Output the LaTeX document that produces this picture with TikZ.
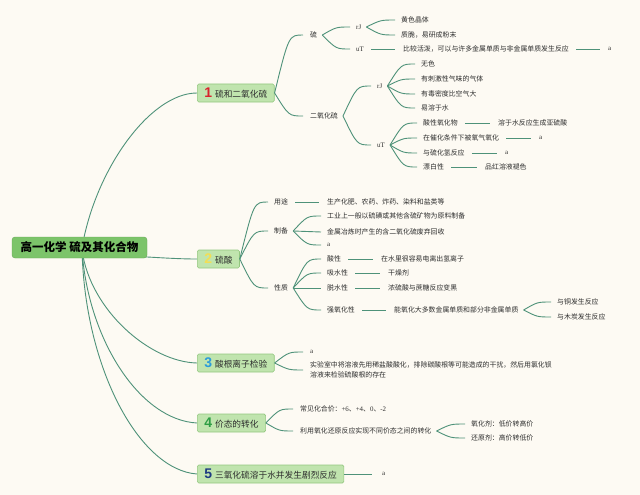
\documentclass[tikz,border=0pt]{standalone}
\usepackage{fontspec}
\setmainfont{Liberation Serif}
\newfontfamily\cjk{Noto Sans CJK SC}
\newfontfamily\numfont{Liberation Sans}
\usetikzlibrary{calc}
\definecolor{paperc}{HTML}{FDFAF3}
\definecolor{linkc}{HTML}{4E9279}
\definecolor{rootfill}{HTML}{7CC46A}
\definecolor{brfill}{HTML}{C0E4AE}
\definecolor{brdraw}{HTML}{93C77F}
\definecolor{txtc}{HTML}{2E2E2E}
\definecolor{numa}{HTML}{D9232D}
\definecolor{numb}{HTML}{F2DE55}
\definecolor{numc}{HTML}{2B9BD9}
\definecolor{numd}{HTML}{2E9E45}
\definecolor{nume}{HTML}{1E3B82}
\pgfdeclarelayer{paper}
\pgfdeclarelayer{links}
\pgfsetlayers{paper,links,main}
\newcommand\fanto[2]{\draw[lnk] let \p1=([xshift=5pt]#1.east), \p2=([xshift=-6pt]#2.west) in (\p1) .. controls ({0.5*\x1+0.5*\x2},\y2) .. (\p2);}
\newcommand\dash[2]{\draw[lnk] ([xshift=7pt]#1.east) -- ([xshift=-8pt]#2.west);}
\newcommand\bnum[2]{\textcolor{#1}{\numfont\bfseries\fontsize{14}{14}\selectfont #2}\hspace{3pt}}
\begin{document}
\begin{tikzpicture}[x=1pt,y=-1pt,
 lnk/.style={draw=linkc,line width=0.9pt},
 tx/.style={font=\cjk\fontsize{6.9}{10}\selectfont,inner sep=0pt,anchor=west,text=txtc},
 lt/.style={font=\fontsize{6.9}{10}\selectfont,inner sep=0pt,anchor=west,text=txtc},
 br/.style={rectangle,rounded corners=1.5pt,fill=brfill,draw=brdraw,line width=0.6pt,font=\cjk\fontsize{8.7}{10}\selectfont,anchor=west,minimum height=18pt,inner xsep=7pt,inner ysep=0pt,text=txtc},
 rootbox/.style={rectangle,rounded corners=3pt,fill=rootfill,draw=rootfill!85!black,line width=0.4pt,font=\cjk\bfseries\fontsize{11.5}{12}\selectfont,minimum width=135pt,minimum height=21pt,inner sep=0pt,text=black}
 ]
\begin{pgfonlayer}{paper}
\fill[paperc] (0,0) rectangle (640,495);
\end{pgfonlayer}
\useasboundingbox (0,0) rectangle (640,495);

% root and branches
\node[rootbox] (root) at (79.5,247.5) {高一化学 硫及其化合物};
\node[br] (b1) at (197,93) {\bnum{numa}{1}硫和二氧化硫};
\node[br] (b2) at (197,259) {\bnum{numb}{2}硫酸};
\node[br] (b3) at (197,363) {\bnum{numc}{3}酸根离子检验};
\node[br] (b4) at (197,423) {\bnum{numd}{4}价态的转化};
\node[br] (b5) at (197,474) {\bnum{nume}{5}三氧化硫溶于水并发生剧烈反应};

% branch 1
\node[tx] (s) at (310,35) {硫};
\node[tx] (so2) at (310,116) {二氧化硫};
\node[lt] (sr) at (356,27) {rJ};
\node[lt] (su) at (356,49) {uT};
\node[tx] (sr1) at (401,20) {黄色晶体};
\node[tx] (sr2) at (401,35) {质脆，易研成粉末};
\node[tx] (su1) at (403,49) {比较活泼，可以与许多金属单质与非金属单质发生反应};
\node[lt] (su2) at (608,49) {a};
\node[lt] (or) at (377,86) {rJ};
\node[lt] (ou) at (377,145) {uT};
\node[tx] (or1) at (421,64) {无色};
\node[tx] (or2) at (421,79) {有刺激性气味的气体};
\node[tx] (or3) at (421,94) {有毒密度比空气大};
\node[tx] (or4) at (421,108) {易溶于水};
\node[tx] (ou1) at (423,123) {酸性氧化物};
\node[tx] (ou1a) at (498,123) {溶于水反应生成亚硫酸};
\node[tx] (ou2) at (423,138) {在催化条件下被氧气氧化};
\node[lt] (ou2a) at (539,138) {a};
\node[tx] (ou3) at (423,153) {与硫化氢反应};
\node[lt] (ou3a) at (505,153) {a};
\node[tx] (ou4) at (423,167) {漂白性};
\node[tx] (ou4a) at (485,167) {品红溶液褪色};

% branch 2
\node[tx] (yt) at (274,202) {用途};
\node[tx] (zb) at (274,231) {制备};
\node[tx] (xz) at (274,288) {性质};
\node[tx] (yt1) at (327,202) {生产化肥、农药、炸药、染料和盐类等};
\node[tx] (zb1) at (327,216) {工业上一般以硫磺或其他含硫矿物为原料制备};
\node[tx] (zb2) at (327,232) {金属冶炼时产生的含二氧化硫废弃回收};
\node[lt] (zb3) at (327,245) {a};
\node[tx] (xz1) at (327,259) {酸性};
\node[tx] (xz1a) at (381,259) {在水里很容易电离出氢离子};
\node[tx] (xz2) at (327,273) {吸水性};
\node[tx] (xz2a) at (388,273) {干燥剂};
\node[tx] (xz3) at (327,288) {脱水性};
\node[tx] (xz3a) at (388,288) {浓硫酸与蔗糖反应变黑};
\node[tx] (xz4) at (327,310) {强氧化性};
\node[tx] (xz4a) at (394,310) {能氧化大多数金属单质和部分非金属单质};
\node[tx] (xz4b) at (557,302) {与铜发生反应};
\node[tx] (xz4c) at (557,317) {与木炭发生反应};

% branch 3
\node[lt] (c1) at (310,352) {a};
\node[tx,align=left] (c2) at (310,370) {实验室中将溶液先用稀盐酸酸化，排除碳酸根等可能造成的干扰，然后用氯化钡\\溶液来检验硫酸根的存在};

% branch 4
\node[lt] (d1) at (300,409) {{\cjk 常见化合价：}+6{\cjk 、}+4{\cjk 、}0{\cjk 、}-2};
\node[tx] (d2) at (300,431) {利用氧化还原反应实现不同价态之间的转化};
\node[tx] (d2a) at (471,424) {氧化剂：低价转高价};
\node[tx] (d2b) at (471,438) {还原剂：高价转低价};

% branch 5
\node[lt] (e1) at (382,474) {a};

\begin{pgfonlayer}{links}
\draw[lnk] (82,248) .. controls (95,170) and (150,93) .. (b1.west);
\draw[lnk] (130,256) .. controls (165,258) and (180,259) .. (b2.west);
\draw[lnk] (82,250) .. controls (90,310) and (150,362) .. (b3.west);
\draw[lnk] (82,250) .. controls (88,340) and (140,420) .. (b4.west);
\draw[lnk] (82,250) .. controls (85,370) and (140,470) .. (b5.west);
\end{pgfonlayer}

% branch 1 links
\draw[lnk] let \p1=(b1.east), \p2=([xshift=-7pt]s.west) in (\p1) .. controls ({0.5*\x1+0.5*\x2},\y2) .. (\p2);
\draw[lnk] let \p1=(b1.east), \p2=([xshift=-7pt]so2.west) in (\p1) .. controls ({0.5*\x1+0.5*\x2},\y2) .. (\p2);
\fanto{s}{sr}
\fanto{s}{su}
\fanto{sr}{sr1}
\fanto{sr}{sr2}
\dash{su}{su1}
\dash{su1}{su2}
\fanto{so2}{or}
\fanto{so2}{ou}
\fanto{or}{or1}
\fanto{or}{or2}
\fanto{or}{or3}
\fanto{or}{or4}
\fanto{ou}{ou1}
\fanto{ou}{ou2}
\fanto{ou}{ou3}
\fanto{ou}{ou4}
\dash{ou1}{ou1a}
\dash{ou2}{ou2a}
\dash{ou3}{ou3a}
\dash{ou4}{ou4a}

% branch 2 links
\draw[lnk] let \p1=(b2.east), \p2=([xshift=-6pt]yt.west) in (\p1) .. controls ({0.5*\x1+0.5*\x2},\y2) .. (\p2);
\draw[lnk] let \p1=(b2.east), \p2=([xshift=-6pt]zb.west) in (\p1) .. controls ({0.5*\x1+0.5*\x2},\y2) .. (\p2);
\draw[lnk] let \p1=(b2.east), \p2=([xshift=-6pt]xz.west) in (\p1) .. controls ({0.5*\x1+0.5*\x2},\y2) .. (\p2);
\dash{yt}{yt1}
\fanto{zb}{zb1}
\fanto{zb}{zb2}
\fanto{zb}{zb3}
\fanto{xz}{xz1}
\fanto{xz}{xz2}
\fanto{xz}{xz3}
\fanto{xz}{xz4}
\dash{xz1}{xz1a}
\dash{xz2}{xz2a}
\dash{xz3}{xz3a}
\dash{xz4}{xz4a}
\fanto{xz4a}{xz4b}
\fanto{xz4a}{xz4c}

% branch 3 links
\draw[lnk] let \p1=(b3.east), \p2=([xshift=-7pt]c1.west) in (\p1) .. controls ({0.5*\x1+0.5*\x2},\y2) .. (\p2);
\draw[lnk] let \p1=(b3.east), \p2=([xshift=-7pt]c2.west) in (\p1) .. controls ({0.5*\x1+0.5*\x2},\y2) .. (\p2);

% branch 4 links
\draw[lnk] let \p1=(b4.east), \p2=([xshift=-7pt]d1.west) in (\p1) .. controls ({0.5*\x1+0.5*\x2},\y2) .. (\p2);
\draw[lnk] let \p1=(b4.east), \p2=([xshift=-7pt]d2.west) in (\p1) .. controls ({0.5*\x1+0.5*\x2},\y2) .. (\p2);
\fanto{d2}{d2a}
\fanto{d2}{d2b}

% branch 5 link
\draw[lnk] (b5.east) -- ([xshift=-10pt]e1.west);
\end{tikzpicture}
\end{document}
